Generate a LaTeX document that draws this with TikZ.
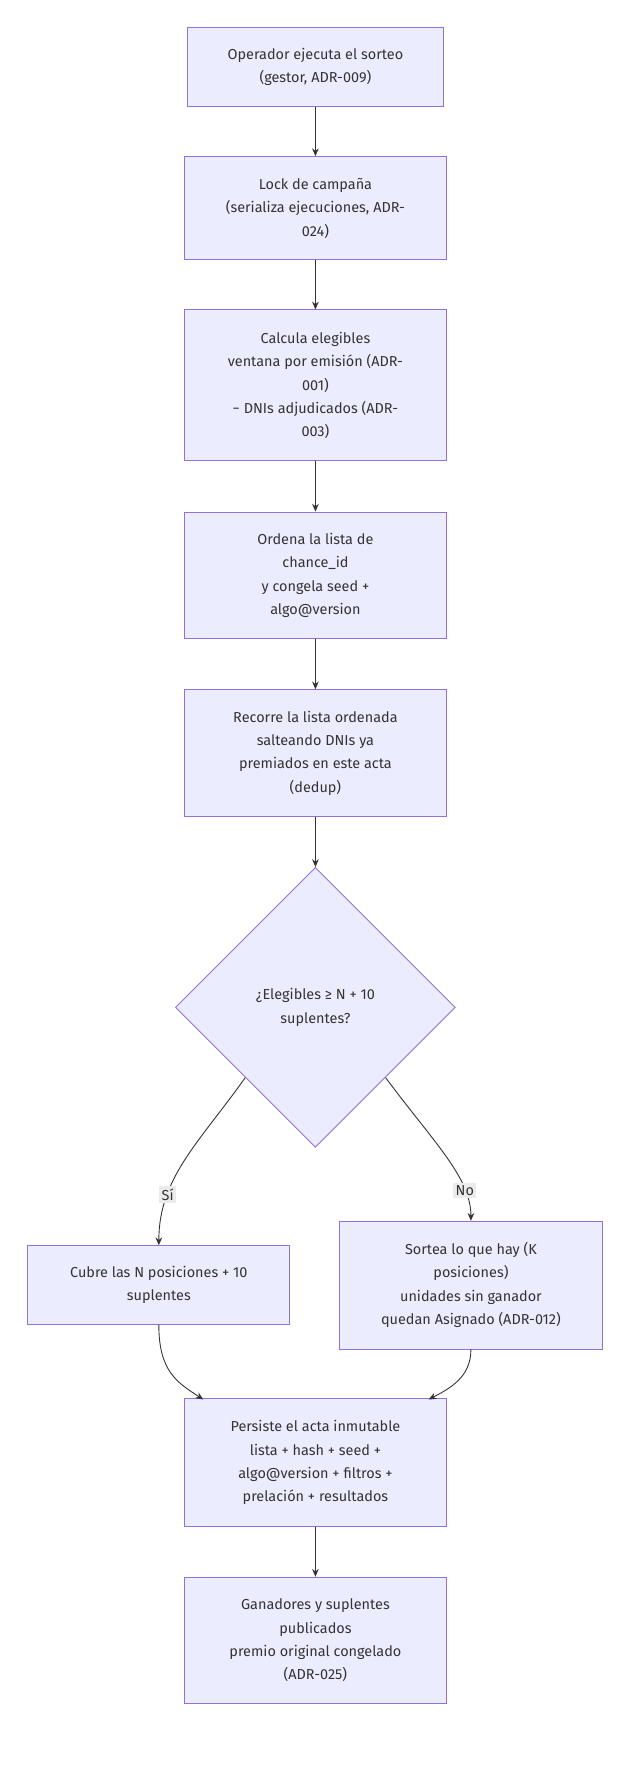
\documentclass[tikz,border=0pt]{standalone}
\usepackage{fontspec}
\setmainfont{Fira Sans}
\usetikzlibrary{shapes.geometric,arrows.meta}
\definecolor{boxfill}{HTML}{ECECFF}
\definecolor{boxline}{HTML}{9370DB}
\definecolor{linkcol}{HTML}{333333}
\begin{document}
\begin{tikzpicture}[x=1pt,y=-1pt,
    stage/.style={draw=boxline,fill=boxfill,line width=0.8pt,align=center,inner sep=0pt,
      font=\fontsize{13}{21}\selectfont,text=linkcol},
    decide/.style={diamond,draw=boxline,fill=boxfill,line width=0.8pt,align=center,
      font=\fontsize{13}{21}\selectfont,text=linkcol,minimum width=252pt,minimum height=252pt,inner sep=0pt},
    link/.style={draw=linkcol,line width=0.8pt,-{Stealth[length=7pt,width=6pt]}},
    tag/.style={fill=black!8,inner sep=2pt,font=\fontsize{13}{15}\selectfont,text=linkcol}]
  \useasboundingbox (0,0) rectangle (576,1590);

  % Nodes
  \node[stage,minimum width=231pt,minimum height=71pt] (start) at (284,60) {Operador ejecuta el sorteo\\(gestor, ADR-009)};
  \node[stage,minimum width=236pt,minimum height=93pt] (lock) at (284,187.5) {Lock de campaña\\(serializa ejecuciones, ADR-\\024)};
  \node[stage,minimum width=236pt,minimum height=136pt] (calc) at (284,347) {Calcula elegibles\\ventana por emisión (ADR-\\001)\\− DNIs adjudicados (ADR-\\003)};
  \node[stage,minimum width=236pt,minimum height=114pt] (sort) at (284,518) {Ordena la lista de\\chance\_id\\y congela seed +\\algo@version};
  \node[stage,minimum width=236pt,minimum height=114pt] (walk) at (284,678) {Recorre la lista ordenada\\salteando DNIs ya\\premiados en este acta\\(dedup)};
  \node[decide] (enough) at (284,907) {¿Elegibles ≥ N + 10\\suplentes?};
  \node[stage,minimum width=236pt,minimum height=71pt] (full) at (143,1157) {Cubre las N posiciones + 10\\suplentes};
  \node[stage,minimum width=236pt,minimum height=115pt] (part) at (424,1157) {Sortea lo que hay (K\\posiciones)\\unidades sin ganador\\quedan Asignado (ADR-012)};
  \node[stage,minimum width=236pt,minimum height=115pt] (save) at (284,1317) {Persiste el acta inmutable\\lista + hash + seed +\\algo@version + filtros +\\prelación + resultados};
  \node[stage,minimum width=236pt,minimum height=114pt] (pub) at (284,1477) {Ganadores y suplentes\\publicados\\premio original congelado\\(ADR-025)};

  % Connectors
  \draw[link] (start) -- (lock);
  \draw[link] (lock) -- (calc);
  \draw[link] (calc) -- (sort);
  \draw[link] (sort) -- (walk);
  \draw[link] (walk) -- (enough);
  \draw[link] (enough.225) .. controls (180,1028) and (143,1060) .. node[tag,pos=0.72] {Sí} (full.north);
  \draw[link] (enough.315) .. controls (390,1028) and (424,1060) .. node[tag,pos=0.76] {No} (part.north);
  \draw[link] (full.south) .. controls (143,1235) and (160,1245) .. (183,1260);
  \draw[link] (part.south) .. controls (424,1240) and (405,1250) .. (386,1260);
  \draw[link] (save) -- (pub);
\end{tikzpicture}
\end{document}
